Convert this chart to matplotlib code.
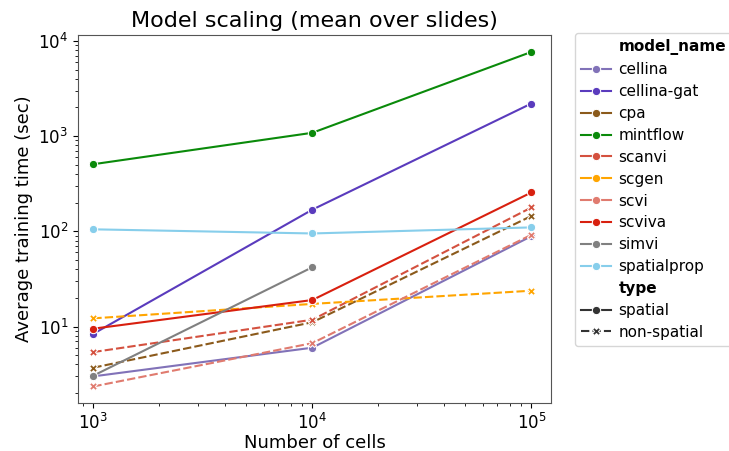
import matplotlib
matplotlib.use('Agg')
import matplotlib.pyplot as plt
from matplotlib.lines import Line2D

n_cells = [1e3, 1e4, 1e5]

models = ['cellina', 'cellina-gat', 'cpa', 'mintflow', 'scanvi',
          'scgen', 'scvi', 'scviva', 'simvi', 'spatialprop']
model_type = {'cellina': 'spatial', 'cellina-gat': 'spatial', 'cpa': 'non-spatial',
              'mintflow': 'spatial', 'scanvi': 'non-spatial', 'scgen': 'non-spatial',
              'scvi': 'non-spatial', 'scviva': 'spatial', 'simvi': 'spatial',
              'spatialprop': 'spatial'}

cellina = [3.0, 6.0, 89]
cellina_gat = [8.4, 169, 2200]
cpa = [3.7, 11.1, 145]
mintflow = [507, 1084, 7660]
scanvi = [5.4, 11.8, 178]
scgen = [12.2, 17.3, 23.8]
scvi = [2.35, 6.7, 92]
scviva = [9.5, 19, 256]
simvi = [3.05, 42]
spatialprop = [105, 95, 110]

times = {'cellina': cellina, 'cellina-gat': cellina_gat, 'cpa': cpa,
         'mintflow': mintflow, 'scanvi': scanvi, 'scgen': scgen, 'scvi': scvi,
         'scviva': scviva, 'simvi': simvi, 'spatialprop': spatialprop}

colors = {'cellina': '#8172b8', 'cellina-gat': '#5a3bbd', 'cpa': '#8b5a1b',
          'mintflow': '#0a8a0a', 'scanvi': '#d4513f', 'scgen': '#ffa500',
          'scvi': '#e07b6f', 'scviva': '#d8200f', 'simvi': '#808080',
          'spatialprop': '#87ceeb'}

fig = plt.figure(figsize=(7.29, 4.51), dpi=100)
ax = fig.add_axes([0.107, 0.107, 0.649, 0.815])

for m in models:
    y = times[m]
    x = n_cells[:len(y)]
    if model_type[m] == 'spatial':
        ax.plot(x, y, color=colors[m], lw=1.5, marker='o', ms=6,
                markeredgecolor='white', markeredgewidth=0.75)
    else:
        ax.plot(x, y, color=colors[m], lw=1.5, ls=(0, (4, 1.5)), marker='X', ms=6,
                markeredgecolor='white', markeredgewidth=0.75)

ax.set_xscale('log')
ax.set_yscale('log')
ax.set_xlim(10 ** 2.93, 10 ** 5.09)
ax.set_ylim(10 ** 0.2, 10 ** 4.06)
ax.set_title('Model scaling (mean over slides)', fontsize=16)
ax.set_xlabel('Number of cells', fontsize=13, labelpad=1)
ax.set_ylabel('Average training time (sec)', fontsize=13)
ax.tick_params(labelsize=12)
for s in ax.spines.values():
    s.set_color('#555555')

handles = [Line2D([], [], ls='none', label='model_name')]
for m in models:
    handles.append(Line2D([], [], color=colors[m], lw=1.5, marker='o', ms=6,
                          markeredgecolor='white', markeredgewidth=0.75, label=m))
handles.append(Line2D([], [], ls='none', label='type'))
handles.append(Line2D([], [], color='#333333', lw=1.5, marker='o', ms=6,
                      markeredgecolor='white', markeredgewidth=0.75, label='spatial'))
handles.append(Line2D([], [], color='#333333', lw=1.5, ls=(0, (4, 1.5)), marker='X', ms=6,
                      markeredgecolor='white', markeredgewidth=0.75, label='non-spatial'))

leg = ax.legend(handles=handles, loc='upper left', bbox_to_anchor=(1.05, 1.005),
                fontsize=11, handlelength=2.0, handletextpad=0.45,
                labelspacing=0.45, borderaxespad=0)
for t in leg.get_texts():
    if t.get_text() in ('model_name', 'type'):
        t.set_fontweight('bold')

fig.savefig('out.png', dpi=100)
